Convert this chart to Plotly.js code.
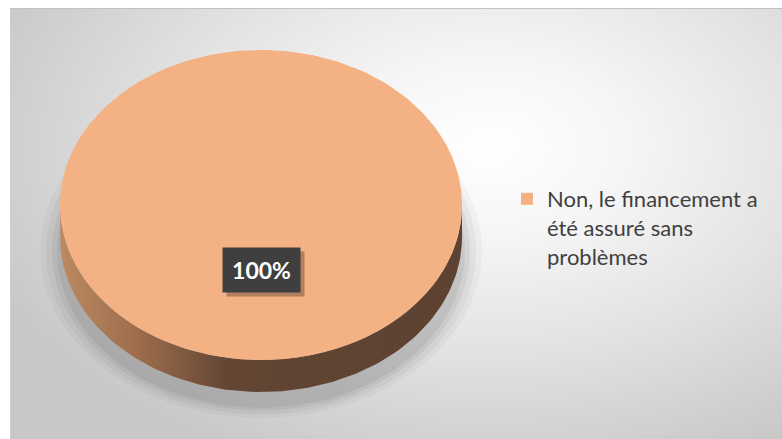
<!DOCTYPE html>
<html>
<head>
<meta charset="utf-8">
<script src="https://cdn.plot.ly/plotly-3.0.1.min.js"></script>
<style>
  html, body { margin: 0; padding: 0; background: #ffffff; }
  #wrap { position: relative; width: 782px; height: 439px; overflow: hidden; }
  #bg {
    position: absolute; left: 10px; top: 8px; width: 772px; height: 431px;
    box-sizing: border-box;
    border-top: 1px solid #c2c2c2; border-left: 1px solid #cfcfcf;
    background: radial-gradient(ellipse 70% 80% at 62% 32%, #ffffff 0%, #f6f6f6 25%, #e2e2e2 60%, #c8c8c8 100%);
  }
  #chart { position: absolute; left: 0; top: 0; width: 782px; height: 439px; }
</style>
</head>
<body>
<div id="wrap"><div id="bg"></div><div id="chart"></div></div>
<script>
// ---- data ----
const categories = ['Non, le financement a été assuré sans problèmes'];
const values = [100];
const legendLabels = ['Non, le financement a<br>été assuré sans<br>problèmes'];

// ---- styles / geometry ----
const sliceColors = ['#F4B183'];
const W = 782, H = 439;
const cx = 261, cy = 205, rx = 201, ry = 155, depth = 32;
const N = 240;

const total = values.reduce((a, b) => a + b, 0);

function pt(t, dy) { return [cx + rx * Math.cos(t), cy + ry * Math.sin(t) + (dy || 0)]; }

function arc(t0, t1, dy) {
  const xs = [], ys = [];
  const n = Math.max(2, Math.ceil(N * Math.abs(t1 - t0) / (2 * Math.PI)));
  for (let i = 0; i <= n; i++) {
    const p = pt(t0 + (t1 - t0) * i / n, dy);
    xs.push(p[0]); ys.push(p[1]);
  }
  return [xs, ys];
}

const traces = [];

// soft shadow under the pie
[[20, 0.03], [14, 0.04], [8, 0.05], [3, 0.06]].forEach(([g, a]) => {
  const xs = [], ys = [];
  for (let i = 0; i <= N; i++) {
    const t = 2 * Math.PI * i / N;
    xs.push(cx + (rx + g) * Math.cos(t));
    ys.push(cy + depth + 14 + (ry + g * 0.6) * Math.sin(t));
  }
  traces.push({ type: 'scatter', x: xs, y: ys, mode: 'lines', fill: 'toself',
    fillcolor: 'rgba(0,0,0,' + a + ')', line: { width: 0 }, hoverinfo: 'skip', showlegend: false });
});

// slices: side walls then top faces
let start = -Math.PI / 2;
const sliceAngles = values.map(v => {
  const a0 = start, a1 = start + 2 * Math.PI * v / total;
  start = a1;
  return [a0, a1];
});

sliceAngles.forEach(([a0, a1], i) => {
  [[-2 * Math.PI, -Math.PI], [0, Math.PI], [2 * Math.PI, 3 * Math.PI]].forEach(([f0, f1]) => {
    const t0 = Math.max(a0, f0), t1 = Math.min(a1, f1);
    if (t1 - t0 <= 1e-6) return;
    const up = arc(t0, t1, 0), lo = arc(t1, t0, depth);
    traces.push({ type: 'scatter', x: up[0].concat(lo[0]), y: up[1].concat(lo[1]),
      mode: 'lines', fill: 'toself', line: { width: 0 }, hoverinfo: 'skip', showlegend: false,
      fillgradient: { type: 'horizontal',
        colorscale: [[0, '#bb8a62'], [0.2, '#9c6c4b'], [0.42, '#624533'], [1, '#5d4231']] } });
  });
});

sliceAngles.forEach(([a0, a1], i) => {
  const a = arc(a0, a1, 0);
  traces.push({ type: 'scatter', x: [cx].concat(a[0], [cx]), y: [cy].concat(a[1], [cy]),
    mode: 'lines', fill: 'toself', fillcolor: sliceColors[i], line: { width: 0 },
    hoverinfo: 'skip', showlegend: false, name: categories[i] });
});

// legend entries
categories.forEach((c, i) => {
  traces.push({ type: 'scatter', x: [null], y: [null], mode: 'markers', name: legendLabels[i],
    marker: { symbol: 'square', size: 12, color: sliceColors[i] }, hoverinfo: 'skip' });
});

// percentage labels
const annotations = [];
values.forEach((v, i) => {
  const txt = Math.round(v / total * 100) + '%';
  const lx = cx, ly = cy + 65;
  annotations.push({ x: lx + 4, y: ly + 4, xref: 'x', yref: 'y', showarrow: false, text: ' ',
    width: 75, height: 42, bgcolor: 'rgba(0,0,0,0.28)', borderpad: 1, font: { size: 22 } });
  annotations.push({ x: lx, y: ly, xref: 'x', yref: 'y', showarrow: false, text: '<b>' + txt + '</b>',
    width: 75, height: 42, bgcolor: '#3f3f3f', borderpad: 1,
    font: { family: 'Lato, sans-serif', size: 23, color: '#ffffff' } });
});

const layout = {
  width: W, height: H,
  margin: { l: 0, r: 0, t: 0, b: 0 },
  paper_bgcolor: 'rgba(0,0,0,0)', plot_bgcolor: 'rgba(0,0,0,0)',
  xaxis: { range: [0, W], visible: false, fixedrange: true },
  yaxis: { range: [H, 0], visible: false, fixedrange: true },
  showlegend: true,
  legend: { x: 507 / W, xanchor: 'left', y: 1 - 178 / H, yanchor: 'top', valign: 'top',
    bgcolor: 'rgba(0,0,0,0)', font: { family: 'Lato, sans-serif', size: 22, color: '#404040' } },
  annotations: annotations,
  hovermode: false
};

Plotly.newPlot('chart', traces, layout, { displayModeBar: false, staticPlot: true });
</script>
</body>
</html>
